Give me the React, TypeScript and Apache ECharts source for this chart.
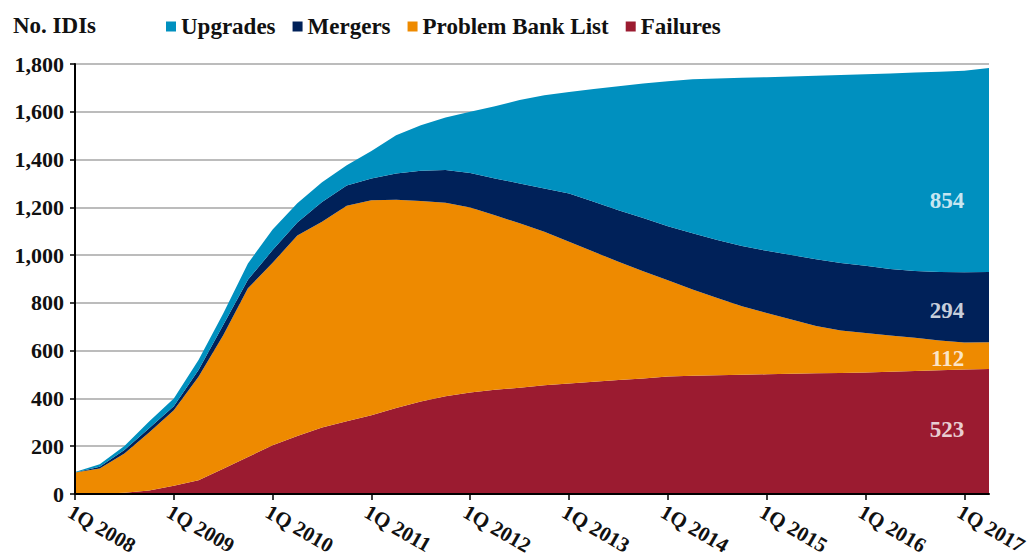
import React, { useEffect, useRef } from "react";
import * as echarts from "echarts";

const quarters = [
  "1Q 2008", "2Q 2008", "3Q 2008", "4Q 2008",
  "1Q 2009", "2Q 2009", "3Q 2009", "4Q 2009",
  "1Q 2010", "2Q 2010", "3Q 2010", "4Q 2010",
  "1Q 2011", "2Q 2011", "3Q 2011", "4Q 2011",
  "1Q 2012", "2Q 2012", "3Q 2012", "4Q 2012",
  "1Q 2013", "2Q 2013", "3Q 2013", "4Q 2013",
  "1Q 2014", "2Q 2014", "3Q 2014", "4Q 2014",
  "1Q 2015", "2Q 2015", "3Q 2015", "4Q 2015",
  "1Q 2016", "2Q 2016", "3Q 2016", "4Q 2016",
  "1Q 2017", "2Q 2017",
];

const failures = [
  0, 1, 5, 15, 35, 58, 106, 155, 204, 243, 278, 305, 330, 360, 387, 409, 425, 436, 445,
  455, 463, 470, 477, 483, 492, 495, 497, 499, 501, 503, 505, 507, 509, 512, 515, 518, 521, 523,
];
const problemBankList = [
  90, 106, 165, 242, 316, 433, 559, 706, 764, 839, 862, 902, 900, 872, 839, 810, 774, 731, 688,
  643, 593, 544, 495, 449, 403, 361, 323, 287, 257, 227, 198, 177, 165, 152, 139, 125, 113, 112,
];
const mergers = [
  0, 7, 14, 18, 16, 28, 42, 36, 53, 55, 82, 84, 91, 110, 127, 137, 145, 154, 167,
  181, 202, 209, 216, 223, 226, 235, 243, 252, 260, 270, 280, 283, 281, 278, 279, 286, 294, 294,
];
const upgrades = [
  2, 11, 17, 28, 33, 42, 49, 68, 86, 80, 83, 85, 115, 160, 191, 220, 256, 302, 349,
  390, 425, 472, 519, 563, 607, 645, 676, 704, 727, 748, 768, 787, 802, 818, 831, 839, 844, 854,
];

const seriesNames = ["Failures", "Problem Bank List", "Mergers", "Upgrades"];
const seriesColors = ["#9B1B30", "#EE8A00", "#002159", "#0090BF"];
const legendOrder = ["Upgrades", "Mergers", "Problem Bank List", "Failures"];
const yMin = 0;
const yMax = 1800;
const yStep = 200;
const labelIndex = 36;

const FONT = "Liberation Serif, serif";

export default function App() {
  const ref = useRef<HTMLDivElement>(null);

  useEffect(() => {
    document.body.style.margin = "0";
    if (!ref.current) return;
    const chart = echarts.init(ref.current, undefined, { renderer: "svg" });

    const allData = [failures, problemBankList, mergers, upgrades];
    const labelFractions = [0.52, 0.4, 0.45, 0.35];
    const lastIdx = quarters.length - 1;

    let base = 0;
    const labelPoints = allData.map((arr, k) => {
      const v = arr[lastIdx];
      const y = base + v * labelFractions[k];
      base += v;
      return { value: [labelIndex, y], label: { formatter: String(v) } };
    });

    const areaSeries = allData.map((arr, k) => ({
      name: seriesNames[k],
      type: "line",
      stack: "total",
      data: arr,
      showSymbol: false,
      symbol: "none",
      lineStyle: { width: 0, color: seriesColors[k] },
      itemStyle: { color: seriesColors[k] },
      areaStyle: { color: seriesColors[k], opacity: 1 },
      z: 2,
    }));

    chart.setOption({
      animation: false,
      textStyle: { fontFamily: FONT },
      title: {
        text: "No. IDIs",
        left: 13,
        top: 14,
        padding: 0,
        textStyle: { fontFamily: FONT, fontWeight: "bold", fontSize: 23, color: "#111" },
      },
      legend: {
        data: legendOrder,
        left: 166,
        top: 15,
        padding: 0,
        icon: "rect",
        itemWidth: 10,
        itemHeight: 10,
        itemGap: 17,
        textStyle: { fontFamily: FONT, fontWeight: "bold", fontSize: 23, color: "#111" },
      },
      grid: { left: 75, right: 40, top: 64, bottom: 65, containLabel: false, outerBoundsMode: "none" },
      xAxis: {
        type: "category",
        data: quarters,
        boundaryGap: false,
        z: 10,
        axisLine: { show: true, lineStyle: { color: "#000", width: 2 } },
        axisTick: { show: true, interval: 3, length: 6, lineStyle: { color: "#000", width: 1.5 } },
        axisLabel: {
          interval: 3,
          rotate: -30,
          margin: 7,
          verticalAlign: "top",
          fontFamily: FONT,
          fontWeight: "bold",
          fontSize: 21,
          color: "#111",
        },
        splitLine: { show: false },
      },
      yAxis: [
        {
          type: "value",
          min: yMin,
          max: yMax,
          interval: yStep,
          position: "left",
          z: 0,
          axisLine: { show: false },
          axisTick: { show: false },
          axisLabel: { show: false },
          splitLine: { show: true, lineStyle: { color: "#A6A6A6", width: 1.5 } },
        },
        {
          type: "value",
          min: yMin,
          max: yMax,
          interval: yStep,
          position: "left",
          z: 10,
          axisLine: { show: true, lineStyle: { color: "#000", width: 2 } },
          axisTick: { show: true, length: 5, lineStyle: { color: "#000", width: 1.5 } },
          axisLabel: {
            margin: 11,
            fontFamily: FONT,
            fontWeight: "bold",
            fontSize: 22,
            color: "#111",
            formatter: (v: number) => v.toLocaleString("en-US"),
          },
          splitLine: { show: false },
        },
      ],
      series: [
        ...areaSeries,
        {
          name: "labels",
          type: "scatter",
          data: labelPoints,
          symbolSize: 0,
          z: 20,
          silent: true,
          label: {
            show: true,
            position: "left",
            distance: 0,
            fontFamily: FONT,
            fontWeight: "bold",
            fontSize: 23,
            color: "#fff",
          },
        },
      ],
    });

    return () => chart.dispose();
  }, []);

  return <div ref={ref} style={{ width: 1029, height: 559 }} />;
}
